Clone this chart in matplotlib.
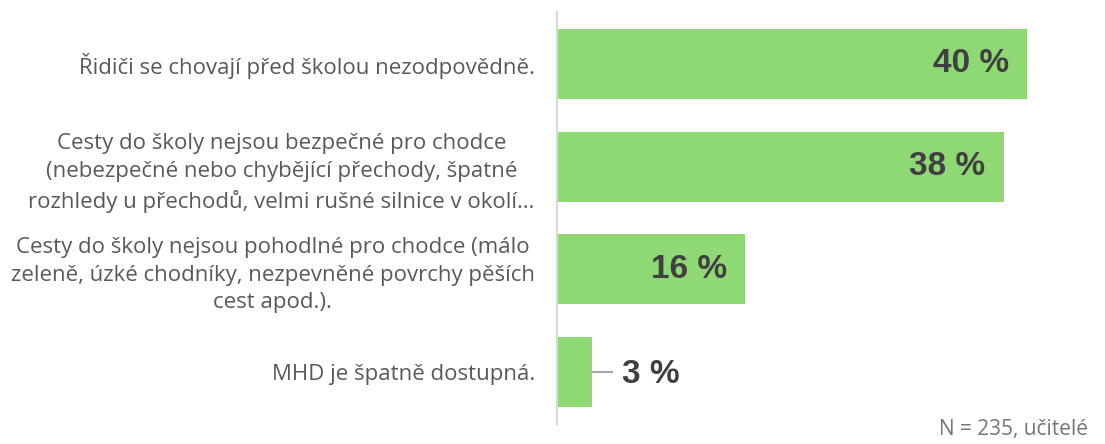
import matplotlib
matplotlib.use("Agg")
import matplotlib.pyplot as plt

categories = [
    "Řidiči se chovají před školou nezodpovědně.",
    "Cesty do školy nejsou bezpečné pro chodce\n(nebezpečné nebo chybějící přechody, špatné\nrozhledy u přechodů, velmi rušné silnice v okolí…",
    "Cesty do školy nejsou pohodlné pro chodce (málo\nzeleně, úzké chodníky, nezpevněné povrchy pěších\ncest apod.).",
    "MHD je špatně dostupná.",
]
values = [40, 38, 16, 3]
value_labels = ["40 %", "38 %", "16 %", "3 %"]
footnote = "N = 235, učitelé"

BAR = "#8ED973"
LABEL_FONT = ["Open Sans", "DejaVu Sans"]
NUM_FONT = ["Liberation Sans", "DejaVu Sans"]

fig = plt.figure(figsize=(11.05, 4.44), dpi=100)
W, H = 1105, 444
x0, x1 = 557, 1027
ytop, ybot = 12, 424
ax = fig.add_axes([x0 / W, (H - ybot) / H, (x1 - x0) / W, (ybot - ytop) / H])

ypos = list(range(len(values)))
ax.barh(ypos, values, height=0.68, color=BAR, zorder=2)
ax.set_xlim(0, 40)
ax.set_ylim(3.506, -0.506)

for s in ["top", "right", "bottom"]:
    ax.spines[s].set_visible(False)
ax.spines["left"].set_color("#d9d9d9")
ax.spines["left"].set_linewidth(1.6)
ax.set_xticks([])
ax.set_yticks(ypos)
ax.set_yticklabels(categories)
ax.tick_params(axis="y", length=0, pad=16)
for t in ax.get_yticklabels():
    t.set_fontfamily(LABEL_FONT)
    t.set_fontsize(16)
    t.set_color("#595959")
    t.set_multialignment("center")
    t.set_linespacing(1.42)

px = 40 / (x1 - x0)  # data units per pixel
for y, v, lab in zip(ypos, values, value_labels):
    if v >= 10:
        ax.annotate(lab, xy=(v, y), xytext=(-18, 0), textcoords="offset pixels",
                    ha="right", va="center", fontsize=24, fontweight="bold",
                    family=NUM_FONT, color="#404040", zorder=3)
    else:
        ax.plot([v, v + 20 * px], [y, y], color="#a6a6a6", lw=1.5, zorder=3, clip_on=False)
        ax.annotate(lab, xy=(v, y), xytext=(30, -2), textcoords="offset pixels",
                    ha="left", va="center", fontsize=24, fontweight="bold",
                    family=NUM_FONT, color="#404040", zorder=3)

fig.text(1088 / W, (H - 429) / H, footnote, ha="right", va="center",
         fontsize=15, color="#767676", family=LABEL_FONT)

fig.savefig("out.png", dpi=100)
